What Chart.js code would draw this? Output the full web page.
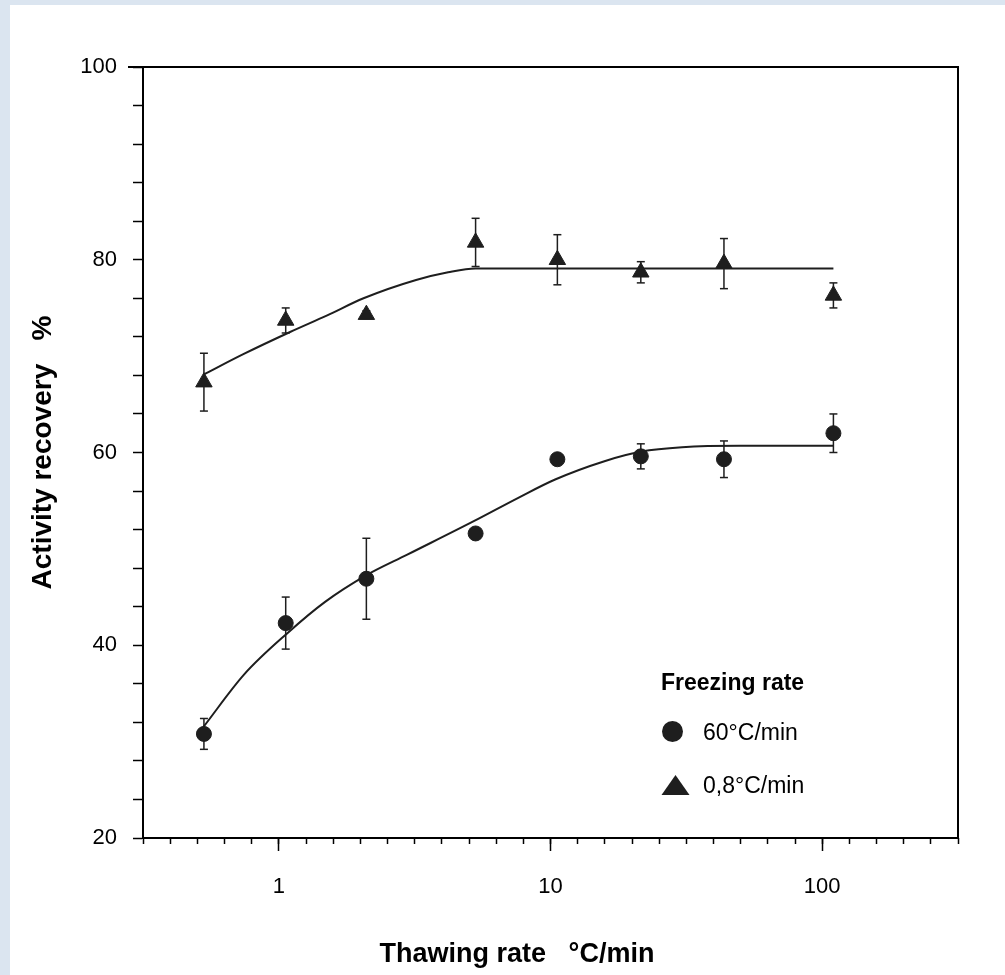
<!DOCTYPE html>
<html>
<head>
<meta charset="utf-8">
<script src="https://cdn.jsdelivr.net/npm/chart.js@4.4.1/dist/chart.umd.min.js"></script>
<style>
  html, body { margin: 0; padding: 0; }
  body { background: #dbe5f0; width: 1005px; height: 975px; position: relative; overflow: hidden; }
  #paper { position: absolute; left: 10px; top: 5px; right: 0; bottom: 0; background: #fff; }
  #chart { position: absolute; left: 0; top: 0; }
</style>
</head>
<body>
<div id="paper"></div>
<canvas id="chart" width="1005" height="975"></canvas>
<script>
// thawing rates (°C/min), same for both freezing rates
let thawRates = [0.53, 1.06, 2.1, 5.3, 10.6, 21.5, 43.5, 110];

// 60°C/min freezing
let fastRecovery = [30.8, 42.3, 46.9, 51.6, 59.3, 59.6, 59.3, 62.0];
let fastError = [1.6, 2.7, 4.2, 0, 0, 1.3, 1.9, 2.0];

// 0,8°C/min freezing
let slowRecovery = [67.3, 73.7, 74.3, 81.8, 80.0, 78.7, 79.6, 76.3];
let slowError = [3.0, 1.3, 0.4, 2.5, 2.6, 1.1, 2.6, 1.3];

// fitted curves as drawn in the figure
let fastFitX = [0.527, 0.747, 1.08, 1.48, 2.08, 2.97, 5.24, 7.61, 10.4, 15.8, 21.6, 30.5, 50, 110];
let fastFitY = [31.5, 37.0, 41.3, 44.5, 47.2, 49.4, 52.9, 55.3, 57.2, 59.1, 60.1, 60.55, 60.7, 60.7];
let slowFitX = [0.53, 0.74, 1.1, 1.5, 2.05, 3.2, 4.2, 5.3, 110];
let slowFitY = [68.1, 70.2, 72.5, 74.2, 76.0, 77.9, 78.7, 79.1, 79.1];

let seriesNames = ['60°C/min', '0,8°C/min'];
let legendTitle = 'Freezing rate';
let xTitle = 'Thawing rate   °C/min';
let yTitle = 'Activity recovery   %';
let xLabelTicks = [1, 10, 100];
let yLabelEvery = 20;
let yTickStep = 4;

let xMin = Math.pow(10, -0.5);
let xMax = Math.pow(10, 2.5);
let xMinorTicks = [];
for (let k = -5; k <= 25; k++) xMinorTicks.push(Math.pow(10, k / 10));

const FONT = '"Liberation Sans", Arial, sans-serif';
const INK = '#1e1e1e';

function points(xs, ys) {
  return xs.map((x, i) => ({ x: x, y: ys[i] }));
}

function errorBars(xs, ys, es) {
  let out = [];
  xs.forEach((x, i) => {
    if (!es[i]) return;
    out.push({ x: x, y: ys[i] - es[i] });
    out.push({ x: x, y: ys[i] + es[i] });
    out.push({ x: x, y: null });
  });
  return out;
}

let framePlugin = {
  id: 'frame',
  afterDraw(chart) {
    const a = chart.chartArea;
    const ctx = chart.ctx;
    ctx.save();
    ctx.strokeStyle = '#000';
    ctx.lineWidth = 2;
    ctx.beginPath();
    ctx.moveTo(a.left - 15, a.top);
    ctx.lineTo(a.right, a.top);
    ctx.lineTo(a.right, a.bottom);
    ctx.stroke();

    // x axis title
    ctx.fillStyle = '#000';
    ctx.font = 'bold 27px ' + FONT;
    ctx.textAlign = 'center';
    ctx.textBaseline = 'alphabetic';
    ctx.fillText(xTitle, 517, 962);
    ctx.restore();
  }
};

let legendPlugin = {
  id: 'freezeLegend',
  afterDraw(chart) {
    const ctx = chart.ctx;
    ctx.save();
    ctx.fillStyle = '#000';
    ctx.textAlign = 'left';
    ctx.textBaseline = 'alphabetic';
    ctx.font = 'bold 23px ' + FONT;
    ctx.fillText(legendTitle, 661, 690);

    ctx.font = '23px ' + FONT;
    ctx.fillText(seriesNames[0], 703, 740);
    ctx.fillText(seriesNames[1], 703, 793);

    ctx.fillStyle = INK;
    ctx.beginPath();
    ctx.arc(672.5, 731.5, 10.5, 0, Math.PI * 2);
    ctx.fill();

    ctx.beginPath();
    ctx.moveTo(675.5, 775);
    ctx.lineTo(689.5, 795);
    ctx.lineTo(661.5, 795);
    ctx.closePath();
    ctx.fill();
    ctx.restore();
  }
};

let chart = new Chart(document.getElementById('chart'), {
  type: 'scatter',
  data: {
    datasets: [
      {
        label: seriesNames[0],
        data: points(thawRates, fastRecovery),
        pointStyle: 'circle',
        pointRadius: 7.5,
        pointBackgroundColor: INK,
        pointBorderColor: INK,
        pointBorderWidth: 1,
        order: 0
      },
      {
        label: seriesNames[1],
        data: points(thawRates, slowRecovery),
        pointStyle: 'triangle',
        pointRadius: 9.5,
        pointBackgroundColor: INK,
        pointBorderColor: INK,
        pointBorderWidth: 1,
        order: 0
      },
      {
        label: 'err fast',
        data: errorBars(thawRates, fastRecovery, fastError),
        showLine: true,
        spanGaps: false,
        borderColor: INK,
        borderWidth: 1.5,
        pointStyle: 'line',
        pointRadius: 4,
        pointBorderColor: INK,
        pointBorderWidth: 1.5,
        order: 1
      },
      {
        label: 'err slow',
        data: errorBars(thawRates, slowRecovery, slowError),
        showLine: true,
        spanGaps: false,
        borderColor: INK,
        borderWidth: 1.5,
        pointStyle: 'line',
        pointRadius: 4,
        pointBorderColor: INK,
        pointBorderWidth: 1.5,
        order: 1
      },
      {
        label: 'fit fast',
        data: points(fastFitX, fastFitY),
        showLine: true,
        pointRadius: 0,
        borderColor: INK,
        borderWidth: 2,
        cubicInterpolationMode: 'monotone',
        order: 2
      },
      {
        label: 'fit slow',
        data: points(slowFitX, slowFitY),
        showLine: true,
        pointRadius: 0,
        borderColor: INK,
        borderWidth: 2,
        cubicInterpolationMode: 'monotone',
        order: 2
      }
    ]
  },
  options: {
    responsive: false,
    animation: false,
    devicePixelRatio: 1,
    layout: { padding: { left: 0, top: 67, right: 47, bottom: 0 } },
    plugins: {
      legend: { display: false },
      tooltip: { enabled: false }
    },
    scales: {
      x: {
        type: 'logarithmic',
        position: 'bottom',
        bounds: 'data',
        weight: 1,
        min: xMin,
        max: xMax,
        afterBuildTicks: (s) => { s.ticks = xLabelTicks.map(v => ({ value: v })); },
        afterFit: (s) => { s.height = 137; },
        ticks: {
          callback: (v) => String(v),
          autoSkip: false,
          maxRotation: 0,
          padding: 23,
          color: '#000',
          font: { family: FONT, size: 22 }
        },
        grid: { drawOnChartArea: false, tickLength: 13, tickColor: '#000', tickWidth: 1.5 },
        border: { color: '#000', width: 2 }
      },
      xMinor: {
        type: 'logarithmic',
        position: 'bottom',
        bounds: 'data',
        weight: 0,
        min: xMin,
        max: xMax,
        afterBuildTicks: (s) => { s.ticks = xMinorTicks.map(v => ({ value: v })); },
        afterFit: (s) => { s.height = 0; },
        ticks: { display: false },
        grid: { drawOnChartArea: false, tickLength: 6, tickColor: '#000', tickWidth: 1.5 },
        border: { display: false }
      },
      y: {
        type: 'linear',
        position: 'left',
        min: 20,
        max: 100,
        afterFit: (s) => { s.width = 143; },
        ticks: {
          stepSize: yTickStep,
          autoSkip: false,
          callback: (v) => (v % yLabelEvery === 0 ? String(v) : ''),
          padding: 16,
          color: '#000',
          font: { family: FONT, size: 22 }
        },
        grid: { drawOnChartArea: false, tickLength: 10, tickColor: '#000', tickWidth: 1.5 },
        border: { color: '#000', width: 2 },
        title: {
          display: true,
          text: yTitle,
          color: '#000',
          padding: { top: 26, bottom: 0 },
          font: { family: FONT, size: 28, weight: 'bold' }
        }
      }
    }
  },
  plugins: [framePlugin, legendPlugin]
});
</script>
</body>
</html>
